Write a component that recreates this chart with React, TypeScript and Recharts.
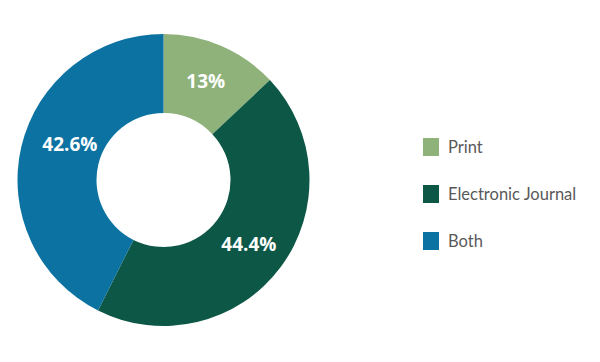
import React from 'react';
import { PieChart, Pie, Cell, Legend } from 'recharts';

const categories = ['Print', 'Electronic Journal', 'Both'];
const shares = [13, 44.4, 42.6];
const labels = ['13%', '44.4%', '42.6%'];
const colors = ['#8fb17a', '#0d5747', '#0b72a2'];
// small label nudges (px) like Excel's best-fit placement
const labelNudge = [[0, -1], [0, 0], [10, -11]];

const data = categories.map((name, i) => ({ name, value: shares[i], label: labels[i] }));

const RAD = Math.PI / 180;

const renderLabel = (props: any) => {
  const { cx, cy, midAngle, innerRadius, outerRadius, index } = props;
  const r = (innerRadius + outerRadius) / 2;
  const x = cx + r * Math.cos(-midAngle * RAD) + labelNudge[index][0];
  const y = cy + r * Math.sin(-midAngle * RAD) + labelNudge[index][1];
  return (
    <text
      x={x}
      y={y}
      fill="#ffffff"
      textAnchor="middle"
      dominantBaseline="central"
      fontFamily="'Open Sans', sans-serif"
      fontWeight={700}
      fontSize={19}
    >
      {data[index].label}
    </text>
  );
};

const LegendBox = () => (
  <div>
    {data.map((d, i) => (
      <div key={d.name} style={{ display: 'flex', alignItems: 'center', height: 18, marginBottom: 29 }}>
        <div style={{ width: 16, minWidth: 16, height: 18, flexShrink: 0, background: colors[i] }} />
        <span style={{ marginLeft: 9, color: '#595959', fontSize: 16.5, fontFamily: 'Lato, sans-serif', whiteSpace: 'nowrap' }}>
          {d.name}
        </span>
      </div>
    ))}
  </div>
);

const App = () => (
  <div style={{ position: 'absolute', left: 0, top: 0, background: '#fff' }}>
    <PieChart width={600} height={362} margin={{ top: 0, right: 0, bottom: 0, left: 0 }}>
      <Pie
        data={data}
        dataKey="value"
        nameKey="name"
        cx={163.5}
        cy={180}
        innerRadius={67}
        outerRadius={146}
        startAngle={90}
        endAngle={-270}
        stroke="none"
        labelLine={false}
        label={renderLabel}
        isAnimationActive={false}
      >
        {data.map((d, i) => (
          <Cell key={d.name} fill={colors[i]} />
        ))}
      </Pie>
      <Legend
        layout="vertical"
        verticalAlign="top"
        align="right"
        content={<LegendBox />}
        wrapperStyle={{ left: 423, top: 138, width: 175 }}
      />
    </PieChart>
  </div>
);

export default App;
